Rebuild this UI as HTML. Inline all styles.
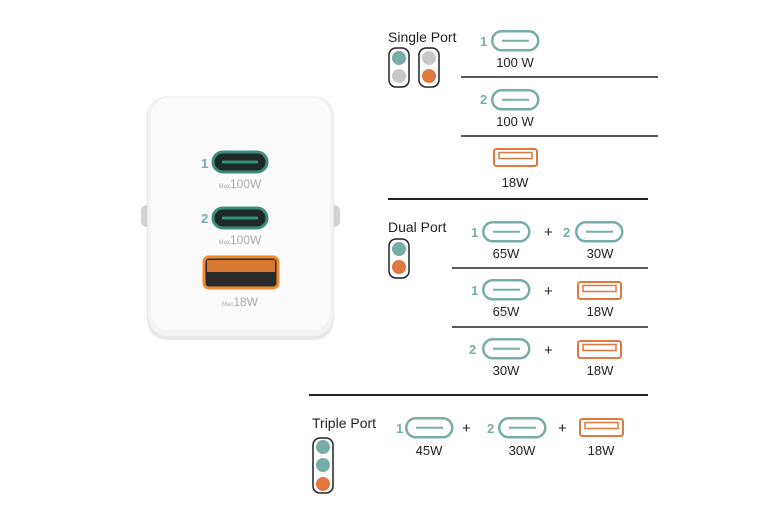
<!DOCTYPE html>
<html><head><meta charset="utf-8"><style>
html,body{margin:0;padding:0;background:#fff;}
svg{display:block;font-family:"Liberation Sans",sans-serif;}
.t{font-size:14px;fill:#222;}
.w{font-size:13px;fill:#222;text-anchor:middle;}
.n{font-size:13px;font-weight:bold;fill:#76ada6;}
.p{font-size:15px;fill:#222;}
.m{font-size:12px;fill:#aaa;text-anchor:middle;}
</style></head><body>
<svg width="776" height="517" viewBox="0 0 776 517">
<defs>
<g id="c"><rect x="1.25" y="1.25" width="46" height="19" rx="9.5" fill="#fff" stroke="#76ada6" stroke-width="2.5"/><line x1="11" y1="10.75" x2="38" y2="10.75" stroke="#76ada6" stroke-width="2"/></g>
<g id="a"><rect x="1" y="1" width="43" height="17" rx="2.5" fill="#fff" stroke="#e07840" stroke-width="2"/><rect x="6" y="4.5" width="33" height="6" fill="none" stroke="#e07840" stroke-width="1.5"/></g>
</defs>
<!-- charger -->
<rect x="141" y="205" width="12" height="22" rx="6" fill="#d2d2d2"/>
<rect x="328" y="205" width="12" height="22" rx="6" fill="#d2d2d2"/>
<rect x="147" y="96" width="187" height="244" rx="20" fill="#e8e8e8"/>
<rect x="148" y="96" width="185" height="240" rx="19" fill="#f3f3f3"/>
<rect x="151" y="98" width="179" height="232" rx="17" fill="#fbfbfb"/>
<text x="201" y="168" class="n" font-size="14">1</text>
<rect x="213" y="152" width="54" height="20" rx="10" fill="#1f2a28" stroke="#3c8b78" stroke-width="3"/>
<line x1="222" y1="162" x2="258" y2="162" stroke="#2f8f78" stroke-width="3"/>
<text x="240" y="188" class="m"><tspan font-size="6">Max</tspan>100W</text>
<text x="201" y="223" class="n" font-size="14">2</text>
<rect x="213" y="208" width="54" height="20" rx="10" fill="#1f2a28" stroke="#3c8b78" stroke-width="3"/>
<line x1="222" y1="218" x2="258" y2="218" stroke="#2f8f78" stroke-width="3"/>
<text x="240" y="244" class="m"><tspan font-size="6">Max</tspan>100W</text>
<rect x="204" y="257" width="74" height="31" rx="5" fill="#2a2a2a" stroke="#f08a30" stroke-width="3"/>
<rect x="207" y="260" width="68" height="12" fill="#d9782f"/>
<text x="240" y="306" class="m"><tspan font-size="6">Max</tspan>18W</text>
<!-- single -->
<text x="388" y="42" class="t">Single Port</text>
<rect x="389" y="48" width="20" height="39" rx="7" fill="#fff" stroke="#222" stroke-width="1.5"/>
<circle cx="399" cy="58" r="7" fill="#76ada6"/><circle cx="399" cy="76" r="7" fill="#c8c8c8"/>
<rect x="419" y="48" width="20" height="39" rx="7" fill="#fff" stroke="#222" stroke-width="1.5"/>
<circle cx="429" cy="58" r="7" fill="#c8c8c8"/><circle cx="429" cy="76" r="7" fill="#e07840"/>
<text x="480" y="46" class="n">1</text><use href="#c" x="491" y="30"/>
<text x="515" y="67" class="w">100 W</text>
<line x1="461" y1="77" x2="658" y2="77" stroke="#222" stroke-width="1.5"/>
<text x="480" y="104" class="n">2</text><use href="#c" x="491" y="89"/>
<text x="515" y="126" class="w">100 W</text>
<line x1="461" y1="136" x2="658" y2="136" stroke="#222" stroke-width="1.5"/>
<use href="#a" x="493" y="148"/>
<text x="515" y="187" class="w">18W</text>
<line x1="388" y1="199" x2="648" y2="199" stroke="#222" stroke-width="2"/>
<!-- dual -->
<text x="388" y="232" class="t">Dual Port</text>
<rect x="389" y="239" width="20" height="39" rx="7" fill="#fff" stroke="#222" stroke-width="1.5"/>
<circle cx="399" cy="249" r="7" fill="#76ada6"/><circle cx="399" cy="267" r="7" fill="#e07840"/>
<text x="471" y="237" class="n">1</text><use href="#c" x="482" y="221"/>
<text x="506" y="258" class="w">65W</text>
<text x="544" y="237" class="p">+</text>
<text x="563" y="237" class="n">2</text><use href="#c" x="575" y="221"/>
<text x="600" y="258" class="w">30W</text>
<line x1="452" y1="268" x2="648" y2="268" stroke="#222" stroke-width="1.5"/>
<text x="471" y="295" class="n">1</text><use href="#c" x="482" y="279"/>
<text x="506" y="316" class="w">65W</text>
<text x="544" y="296" class="p">+</text>
<use href="#a" x="577" y="281"/>
<text x="600" y="316" class="w">18W</text>
<line x1="452" y1="327" x2="648" y2="327" stroke="#222" stroke-width="1.5"/>
<text x="469" y="354" class="n">2</text><use href="#c" x="482" y="338"/>
<text x="506" y="375" class="w">30W</text>
<text x="544" y="355" class="p">+</text>
<use href="#a" x="577" y="340"/>
<text x="600" y="375" class="w">18W</text>
<line x1="309" y1="395" x2="648" y2="395" stroke="#222" stroke-width="2"/>
<!-- triple -->
<text x="312" y="428" class="t">Triple Port</text>
<rect x="313" y="438" width="20" height="55" rx="7" fill="#fff" stroke="#222" stroke-width="1.5"/>
<circle cx="323" cy="447" r="7" fill="#76ada6"/><circle cx="323" cy="465" r="7" fill="#76ada6"/><circle cx="323" cy="484" r="7" fill="#e07840"/>
<text x="396" y="433" class="n">1</text><use href="#c" x="405" y="417"/>
<text x="429" y="455" class="w">45W</text>
<text x="462" y="433" class="p">+</text>
<text x="487" y="433" class="n">2</text><use href="#c" x="498" y="417"/>
<text x="522" y="455" class="w">30W</text>
<text x="558" y="433" class="p">+</text>
<use href="#a" x="579" y="418"/>
<text x="601" y="455" class="w">18W</text>
</svg>
</body></html>
